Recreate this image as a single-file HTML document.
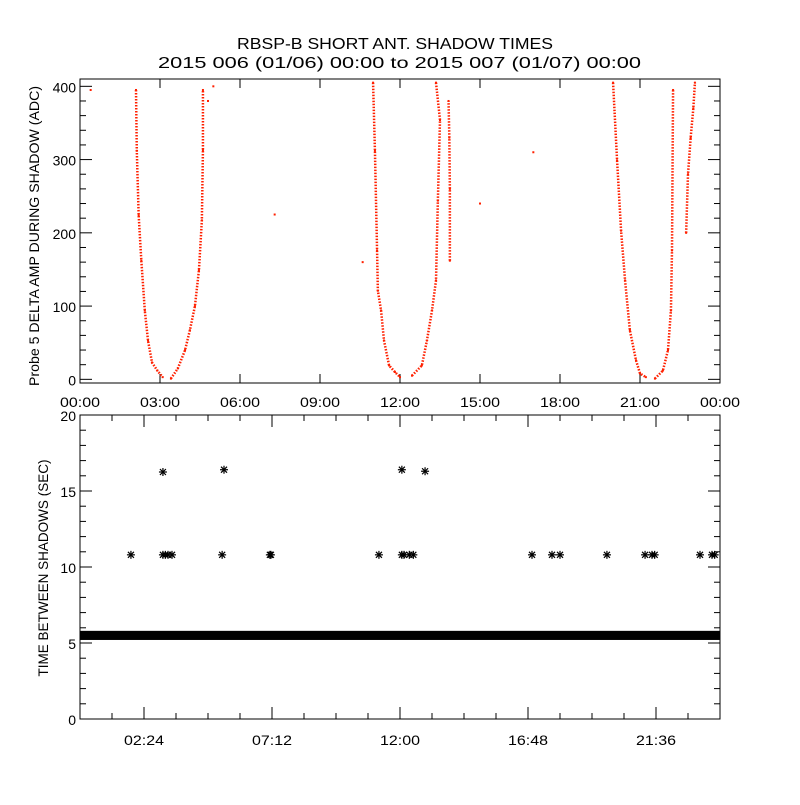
<!DOCTYPE html>
<html><head><meta charset="utf-8"><style>
body{margin:0;background:#fff}
svg text{font-family:"Liberation Sans",sans-serif;fill:#000}
</style></head><body>
<svg id="c" width="800" height="800" xmlns="http://www.w3.org/2000/svg">
<rect width="800" height="800" fill="#fff"/>
<text x="237" y="49" font-size="16" textLength="316" lengthAdjust="spacingAndGlyphs">RBSP-B SHORT ANT. SHADOW TIMES</text>
<text x="158" y="68" font-size="16" textLength="483" lengthAdjust="spacingAndGlyphs">2015 006 (01/06) 00:00 to 2015 007 (01/07) 00:00</text>
<g id="top"></g><g id="bot"></g>
</svg>
<script>
// top panel data
const topTickLabels=["00:00","03:00","06:00","09:00","12:00","15:00","18:00","21:00","00:00"];
const topYTicks=[0,100,200,300,400];
const curveA_h=[2.1,2.13,2.2,2.3,2.43,2.55,2.7,2.9,3.1];
const curveA_v=[395,312,224,162,94,53,23,12,3];
const curveB_h=[3.41,3.67,3.94,4.12,4.31,4.46,4.57,4.61,4.61];
const curveB_v=[1,15,40,67,100,149,217,313,395];
const curveC_h=[10.99,11.06,11.14,11.17,11.29,11.4,11.59,11.81,12.0];
const curveC_v=[405,312,176,121,94,53,19,10,3];
const curveD_h=[12.45,12.82,13.01,13.2,13.35,13.42,13.5,13.35];
const curveD_v=[5,19,53,94,135,244,354,405];
const curveE_h=[13.87,13.87,13.85,13.82];
const curveE_v=[162,260,330,380];
const curveF_h=[19.99,20.14,20.29,20.44,20.62,20.85,21.0,21.22];
const curveF_v=[405,299,203,135,67,26,8,3];
const curveG_h=[21.56,21.86,22.05,22.16,22.2,22.24];
const curveG_v=[1,12,40,94,176,395];
const curveH_h=[22.73,22.8,22.9,23.0,23.06];
const curveH_v=[200,280,330,370,405];
const isoH=[0.4,5.0,4.8,7.3,10.6,17.0,15.0];
const isoV=[395,400,380,225,160,310,240];
// bottom panel data
const botTickLabels=["02:24","07:12","12:00","16:48","21:36"];
const botYTicks=[0,5,10,15,20];
const bandLow=5.2, bandHigh=5.8;
const starH=[1.91,3.11,3.2,3.3,3.45,5.33,7.12,7.16,11.21,12.07,12.15,12.35,12.5,16.95,17.7,18.0,19.76,21.19,21.45,21.55,23.25,23.7,23.8,3.11,5.4,12.07,12.94];
const starV=[10.8,10.8,10.8,10.8,10.8,10.8,10.8,10.8,10.8,10.8,10.8,10.8,10.8,10.8,10.8,10.8,10.8,10.8,10.8,10.8,10.8,10.8,10.8,16.25,16.4,16.4,16.3];

const NS="http://www.w3.org/2000/svg";
function mk(p,t,a){const e=document.createElementNS(NS,t);for(const k in a)e.setAttribute(k,a[k]);p.appendChild(e);return e;}
const X0=80,X1=720;
const xs=h=>X0+h*(X1-X0)/24;
const T=document.getElementById('top'),B=document.getElementById('bot');
const ty=v=>383-(v+5)*(383-79)/415;
const by=v=>719-v*(719-415)/20;

// top frame
let f=mk(T,'rect',{x:X0,y:79,width:640,height:304,fill:'none',stroke:'#000'});


for(let i=0;i<=8;i++){const x=xs(i*3);
 mk(T,'line',{x1:x,x2:x,y1:383,y2:374,stroke:'#000'});mk(T,'line',{x1:x,x2:x,y1:79,y2:88,stroke:'#000'});
 const t=mk(T,'text',{x:x,y:407,'font-size':14,'text-anchor':'middle',textLength:40,lengthAdjust:'spacingAndGlyphs'});t.textContent=topTickLabels[i];
 
 }
for(let v=0;v<=400;v+=20){const y=ty(v),L=v%100===0?12:6;
 mk(T,'line',{x1:X0,x2:X0+L,y1:y,y2:y,stroke:'#000'});mk(T,'line',{x1:X1,x2:X1-L,y1:y,y2:y,stroke:'#000'});}
topYTicks.forEach(v=>{const t=mk(T,'text',{x:76,y:ty(v)+6,'font-size':14,'text-anchor':'end'});t.textContent=v;
 
 });
let yt=mk(T,'text',{x:0,y:0,'font-size':14,'text-anchor':'middle',textLength:300,lengthAdjust:'spacingAndGlyphs',transform:'translate(39,236) rotate(-90)'});
yt.textContent='Probe 5 DELTA AMP DURING SHADOW (ADC)';


const curves=[[curveA_h,curveA_v],[curveB_h,curveB_v],[curveC_h,curveC_v],[curveD_h,curveD_v],[curveE_h,curveE_v],[curveF_h,curveF_v],[curveG_h,curveG_v],[curveH_h,curveH_v]];
curves.forEach(([H,V],ci)=>{
 const pts=H.map((h,i)=>xs(h)+','+ty(V[i])).join(' ');
 const pl=mk(T,'polyline',{points:pts,fill:'none',stroke:'#ff2000','stroke-width':2.5,'stroke-dasharray':'1.5 1.5'});
 
 
 H.forEach((h,i)=>{const r=mk(T,'rect',{x:xs(h)-1,y:ty(V[i])-1,width:2,height:2,fill:'#ff2000'});
  
  });
});
isoH.forEach((h,i)=>{const r=mk(T,'rect',{x:xs(h)-1,y:ty(isoV[i])-1,width:2,height:2,fill:'#ff2000'});
 
 });

// bottom frame
f=mk(B,'rect',{x:X0,y:415,width:640,height:304,fill:'none',stroke:'#000'});


for(let i=0;i<=20;i++){const x=xs(i*1.2),L=i%4===2?12:6;
 mk(B,'line',{x1:x,x2:x,y1:719,y2:719-L,stroke:'#000'});mk(B,'line',{x1:x,x2:x,y1:415,y2:415+L,stroke:'#000'});}
botTickLabels.forEach((s,i)=>{const t=mk(B,'text',{x:xs(2.4+i*4.8),y:745,'font-size':14,'text-anchor':'middle',textLength:40,lengthAdjust:'spacingAndGlyphs'});t.textContent=s;
 
 });
for(let v=0;v<=20;v+=1){const y=by(v),L=v%5===0?12:6;
 mk(B,'line',{x1:X0,x2:X0+L,y1:y,y2:y,stroke:'#000'});mk(B,'line',{x1:X1,x2:X1-L,y1:y,y2:y,stroke:'#000'});}
botYTicks.forEach(v=>{const t=mk(B,'text',{x:76,y:by(v)+6,'font-size':14,'text-anchor':'end'});t.textContent=v;
 
 });
yt=mk(B,'text',{x:0,y:0,'font-size':14,'text-anchor':'middle',textLength:217,lengthAdjust:'spacingAndGlyphs',transform:'translate(48,568) rotate(-90)'});
yt.textContent='TIME BETWEEN SHADOWS (SEC)';


const band=mk(B,'rect',{x:X0,y:by(bandHigh),width:640,height:by(bandLow)-by(bandHigh),fill:'#000'});


starH.forEach((h,i)=>{const x=xs(h),y=by(starV[i]);
 const g=mk(B,'g',{stroke:'#000','stroke-width':1.2});
 
 
 mk(g,'line',{x1:x-4,x2:x+4,y1:y,y2:y});mk(g,'line',{x1:x,x2:x,y1:y-4,y2:y+4});
 mk(g,'line',{x1:x-3,x2:x+3,y1:y-3,y2:y+3});mk(g,'line',{x1:x-3,x2:x+3,y1:y+3,y2:y-3});});
</script>
</body></html>
